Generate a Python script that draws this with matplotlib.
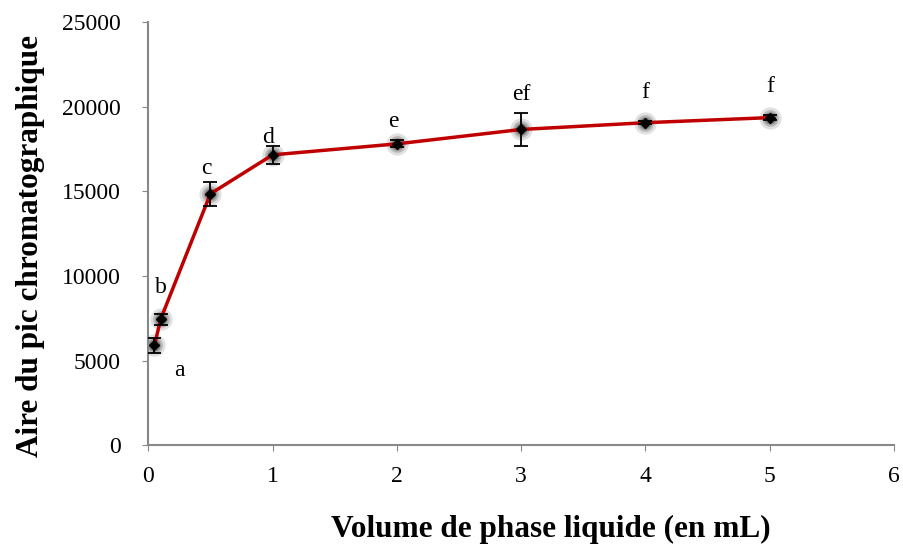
import matplotlib.pyplot as plt

# data
volume = [0.05, 0.1, 0.5, 1, 2, 3, 4, 5]
aire = [5900, 7450, 14850, 17150, 17800, 18650, 19050, 19350]
erreur = [450, 330, 700, 530, 200, 950, 80, 150]
lettres = ["a", "b", "c", "d", "e", "ef", "f", "f"]
lettre_x = [0.25, 0.1, 0.47, 0.96, 1.97, 3.0, 4.0, 5.0]
lettre_y = [4400, 9300, 16350, 18150, 19150, 20700, 20850, 21200]

plt.rcParams['font.family'] = ['Liberation Serif', 'DejaVu Serif']

fig = plt.figure(figsize=(9.04, 5.49), dpi=100)
ax = fig.add_axes([0.164, 0.189, 0.825, 0.771])

# soft glow under markers
for s, a in [(16, 0.12), (12, 0.18), (9, 0.25)]:
    ax.plot(volume, aire, 'o', color='black', markersize=s, alpha=a,
            markeredgewidth=0, zorder=2)
ax.plot(volume, aire, '-', color='#C00000', linewidth=2.5, zorder=3)
ax.errorbar(volume, aire, yerr=erreur, fmt='none', ecolor='black',
            elinewidth=1.3, capsize=5, capthick=1.3, zorder=4)
ax.plot(volume, aire, 'D', color='black', markersize=5, zorder=5)

for x, y, t in zip(lettre_x, lettre_y, lettres):
    ax.text(x, y, t, ha='center', va='center', fontsize=17)

ax.set_xlim(0, 6)
ax.set_ylim(0, 25000)
ax.set_xticks(range(0, 7))
ax.set_yticks(range(0, 25001, 5000))
ax.tick_params(labelsize=17, color='#888888', direction='out', length=4)
ax.tick_params(axis='x', pad=11)
ax.tick_params(axis='y', pad=16)
for side in ['top', 'right']:
    ax.spines[side].set_visible(False)
for side in ['left', 'bottom']:
    ax.spines[side].set_color('#888888')
    ax.spines[side].set_linewidth(1.5)

ax.set_xlabel('Volume de phase liquide (en mL)', fontsize=22.5, fontweight='bold',
              labelpad=20)
ax.set_ylabel('Aire du pic chromatographique', fontsize=22.5, fontweight='bold',
              labelpad=12)
ax.xaxis.label.set_x(0.54)
ax.yaxis.label.set_y(0.47)

fig.savefig('out.png', dpi=100)
